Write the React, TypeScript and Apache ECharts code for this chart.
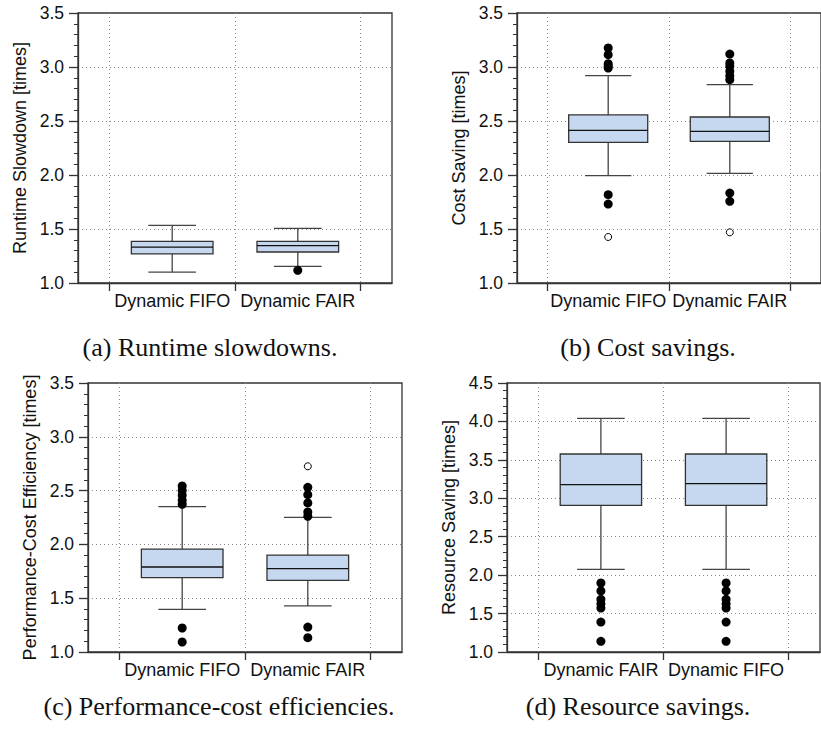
import React, { useEffect, useRef } from 'react';
import * as echarts from 'echarts';

// Category names in left-to-right order
const CATS_ABC = ['Dynamic FIFO', 'Dynamic FAIR'];
const CATS_D = ['Dynamic FAIR', 'Dynamic FIFO'];

// Box statistics per category: [lower whisker, Q1, median, Q3, upper whisker]
const SLOWDOWN_BOX = [
  [1.1, 1.269, 1.333, 1.386, 1.534],
  [1.154, 1.287, 1.346, 1.386, 1.506],
];
const SLOWDOWN_OUT = [[], [1.117]];
const SLOWDOWN_FAR = [[], []];

const COST_BOX = [
  [1.994, 2.302, 2.414, 2.556, 2.92],
  [2.015, 2.312, 2.404, 2.537, 2.836],
];
const COST_OUT = [
  [3.176, 3.114, 3.03, 3.01, 2.99, 1.818, 1.731],
  [3.12, 3.037, 3.006, 2.96, 2.92, 2.883, 1.833, 1.756],
];
const COST_FAR = [[1.426], [1.469]];

const EFF_BOX = [
  [1.397, 1.691, 1.79, 1.957, 2.351],
  [1.428, 1.666, 1.774, 1.901, 2.252],
];
const EFF_OUT = [
  [2.543, 2.502, 2.456, 2.41, 2.372, 1.223, 1.093],
  [2.53, 2.462, 2.385, 2.301, 2.261, 1.232, 1.133],
];
const EFF_FAR = [[], [2.726]];

const RES_BOX = [
  [2.075, 2.908, 3.177, 3.576, 4.04],
  [2.075, 2.908, 3.19, 3.576, 4.04],
];
const RES_OUT = [
  [1.898, 1.794, 1.685, 1.629, 1.572, 1.39, 1.139],
  [1.898, 1.794, 1.685, 1.629, 1.572, 1.39, 1.139],
];
const RES_FAR = [[], []];

// Y axis ranges [min, max]
const Y_RANGE_ABC = [1.0, 3.5];
const Y_RANGE_D = [1.0, 4.5];

const Y_NAMES = [
  'Runtime Slowdown [times]',
  'Cost Saving [times]',
  'Performance-Cost Efficiency [times]',
  'Resource Saving [times]',
];
const CAPTIONS = [
  '(a) Runtime slowdowns.',
  '(b) Cost savings.',
  '(c) Performance-cost efficiencies.',
  '(d) Resource savings.',
];

const SANS = '"Liberation Sans", Arial, Helvetica, sans-serif';
const SERIF = '"Liberation Serif", "Times New Roman", serif';
const AXIS_COLOR = '#333';
const GRID_COLOR = '#8a8a8a';
const BOX_FILL = '#c6d8ef';
const BOX_EDGE = '#333';
const WHISKER = '#444';
const BOX_W = 0.65;
const CAP_W = 0.38;

const GRIDS = [
  { left: 78, top: 13, width: 314, height: 270 },
  { left: 517, top: 13, width: 313, height: 270 },
  { left: 88, top: 383, width: 314, height: 269 },
  { left: 507, top: 383, width: 313, height: 269 },
];

const PANELS = [
  { cats: CATS_ABC, box: SLOWDOWN_BOX, out: SLOWDOWN_OUT, far: SLOWDOWN_FAR, range: Y_RANGE_ABC },
  { cats: CATS_ABC, box: COST_BOX, out: COST_OUT, far: COST_FAR, range: Y_RANGE_ABC },
  { cats: CATS_ABC, box: EFF_BOX, out: EFF_OUT, far: EFF_FAR, range: Y_RANGE_ABC },
  { cats: CATS_D, box: RES_BOX, out: RES_OUT, far: RES_FAR, range: Y_RANGE_D },
];

const CAPTION_POS = [
  [210, 347],
  [648, 347],
  [219, 706],
  [638, 706],
];

const renderBox = (_params: any, api: any) => {
  const x = api.value(0);
  const lo = api.value(1);
  const q1 = api.value(2);
  const med = api.value(3);
  const q3 = api.value(4);
  const hi = api.value(5);
  const halfBox = api.size([BOX_W, 0])[0] / 2;
  const halfCap = api.size([CAP_W, 0])[0] / 2;
  const pLo = api.coord([x, lo]);
  const pQ1 = api.coord([x, q1]);
  const pMed = api.coord([x, med]);
  const pQ3 = api.coord([x, q3]);
  const pHi = api.coord([x, hi]);
  const cx = pMed[0];
  const line = (x1: number, y1: number, x2: number, y2: number, stroke: string) => ({
    type: 'line',
    shape: { x1, y1, x2, y2 },
    style: { stroke, lineWidth: 1.3 },
  });
  return {
    type: 'group',
    children: [
      line(cx, pLo[1], cx, pQ1[1], WHISKER),
      line(cx, pQ3[1], cx, pHi[1], WHISKER),
      line(cx - halfCap, pLo[1], cx + halfCap, pLo[1], WHISKER),
      line(cx - halfCap, pHi[1], cx + halfCap, pHi[1], WHISKER),
      {
        type: 'rect',
        shape: { x: cx - halfBox, y: pQ3[1], width: 2 * halfBox, height: pQ1[1] - pQ3[1] },
        style: { fill: BOX_FILL, stroke: BOX_EDGE, lineWidth: 1.3 },
      },
      line(cx - halfBox, pMed[1], cx + halfBox, pMed[1], '#111'),
    ],
  };
};

function buildOption() {
  const grid = GRIDS.map((g) => ({
    ...g,
    show: true,
    borderColor: AXIS_COLOR,
    borderWidth: 1.3,
    backgroundColor: 'transparent',
    containLabel: false,
  }));

  const xAxis = PANELS.map((p, i) => ({
    type: 'value',
    gridIndex: i,
    min: 0.25,
    max: 2.75,
    axisLine: { show: true, onZero: false, lineStyle: { color: AXIS_COLOR, width: 1.3 } },
    axisTick: {
      show: true,
      length: 8,
      customValues: [0.5, 1.5, 2.5],
      lineStyle: { color: AXIS_COLOR, width: 1.3 },
    },
    axisLabel: {
      customValues: [1, 2],
      formatter: (v: number) => p.cats[Math.round(v) - 1] ?? '',
      fontFamily: SANS,
      fontSize: 18,
      color: '#111',
      margin: 9,
    },
    splitLine: {
      show: true,
      lineStyle: { color: GRID_COLOR, type: [1, 3], width: 1 },
    },
  }));

  const yAxis = PANELS.map((p, i) => ({
    type: 'value',
    gridIndex: i,
    min: p.range[0],
    max: p.range[1],
    interval: 0.5,
    name: Y_NAMES[i],
    nameLocation: 'middle',
    nameGap: 49,
    nameTextStyle: { fontFamily: SANS, fontSize: 18, color: '#111' },
    axisLine: { show: true, lineStyle: { color: AXIS_COLOR, width: 1.3 } },
    axisTick: { show: true, length: 9, lineStyle: { color: AXIS_COLOR, width: 1.3 } },
    minorTick: { show: true, splitNumber: 5, length: 4, lineStyle: { color: AXIS_COLOR, width: 1 } },
    axisLabel: {
      formatter: (v: number) => v.toFixed(1),
      fontFamily: SANS,
      fontSize: 17.5,
      color: '#111',
      margin: 14,
    },
    splitLine: {
      show: true,
      showMinLine: false,
      showMaxLine: false,
      lineStyle: { color: GRID_COLOR, type: [1, 3], width: 1 },
    },
  }));

  const series: any[] = [];
  PANELS.forEach((p, i) => {
    series.push({
      type: 'custom',
      xAxisIndex: i,
      yAxisIndex: i,
      renderItem: renderBox,
      encode: { x: 0, y: [1, 2, 3, 4, 5] },
      data: p.box.map((b, k) => [k + 1, ...b]),
      z: 2,
    });
    series.push({
      type: 'scatter',
      xAxisIndex: i,
      yAxisIndex: i,
      symbol: 'circle',
      symbolSize: 9,
      itemStyle: { color: '#000', opacity: 1 },
      data: p.out.flatMap((vals, k) => vals.map((v) => [k + 1, v])),
      z: 3,
    });
    series.push({
      type: 'scatter',
      xAxisIndex: i,
      yAxisIndex: i,
      symbol: 'circle',
      symbolSize: 7,
      itemStyle: { color: '#fff', borderColor: '#000', borderWidth: 1, opacity: 1 },
      data: p.far.flatMap((vals, k) => vals.map((v) => [k + 1, v])),
      z: 3,
    });
  });

  const graphic = CAPTIONS.map((t, i) => ({
    type: 'text',
    x: CAPTION_POS[i][0],
    y: CAPTION_POS[i][1],
    style: {
      text: t,
      fill: '#111',
      font: `26px ${SERIF}`,
      textAlign: 'center',
      textVerticalAlign: 'middle',
    },
  }));

  return {
    animation: false,
    backgroundColor: '#fff',
    grid,
    xAxis,
    yAxis,
    series,
    graphic,
  };
}

export default function App() {
  const ref = useRef<HTMLDivElement>(null);
  useEffect(() => {
    if (!ref.current) return;
    const chart = echarts.init(ref.current, undefined, { renderer: 'svg' });
    chart.setOption(buildOption() as any);
    return () => chart.dispose();
  }, []);
  return (
    <div
      ref={ref}
      style={{ position: 'absolute', left: 0, top: 0, width: 821, height: 733, background: '#fff' }}
    />
  );
}
